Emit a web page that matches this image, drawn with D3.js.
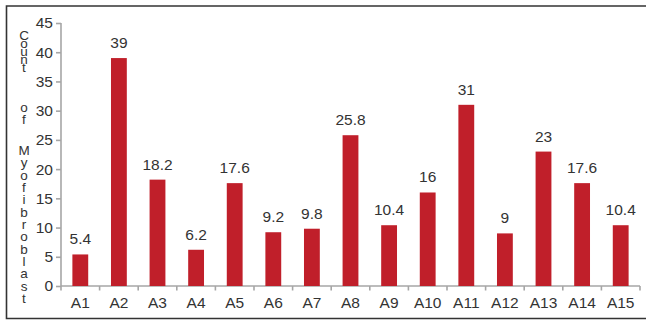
<!DOCTYPE html>
<html>
<head>
<meta charset="utf-8">
<script src="https://cdn.jsdelivr.net/npm/d3@7/dist/d3.min.js"></script>
<style>
  html, body { margin: 0; padding: 0; background: #fff; }
  svg { display: block; font-family: Arial, "Liberation Sans", sans-serif; }
</style>
</head>
<body>
<svg id="chart" width="646" height="320"></svg>
<script>
// Myofibroblast counts per sample
const categories = ["A1","A2","A3","A4","A5","A6","A7","A8","A9","A10","A11","A12","A13","A14","A15"];
const counts = [5.4, 39, 18.2, 6.2, 17.6, 9.2, 9.8, 25.8, 10.4, 16, 31, 9, 23, 17.6, 10.4];
const yTicks = [0, 5, 10, 15, 20, 25, 30, 35, 40, 45];
const yTitle = "Count of Myofibroblast";

const svg = d3.select("#chart");
const axisColor = "#a6a6a6";
const textColor = "#333";
const barColor = "#c01f2a";

// outer frame (open on the right)
svg.append("path")
  .attr("d", "M650,6 H6.5 V318.5 H650")
  .attr("fill", "none")
  .attr("stroke", "#333")
  .attr("stroke-width", 1.6);

const x = d3.scaleBand().domain(categories).range([61, 640]).paddingInner(0.59).paddingOuter(0.295);
const y = d3.scaleLinear().domain([0, 45]).range([286, 23]);

// y axis
const yAxis = svg.append("g")
  .attr("transform", "translate(61,0)")
  .call(d3.axisLeft(y).tickValues(yTicks).tickSize(5).tickPadding(3).tickFormat(d3.format("d")));
yAxis.select(".domain").attr("stroke", axisColor).attr("stroke-width", 1.6).attr("d", "M0,23V286");
yAxis.selectAll(".tick line").attr("stroke", axisColor).attr("stroke-width", 1.6);
yAxis.selectAll(".tick text").attr("fill", textColor).attr("font-size", 15.5).attr("font-family", "Arial, 'Liberation Sans', sans-serif");

// x axis with ticks on category boundaries
const xAxisG = svg.append("g").attr("transform", "translate(0,286)");
xAxisG.append("line").attr("x1", 61).attr("x2", 640).attr("stroke", axisColor).attr("stroke-width", 1.6);
const bounds = d3.range(categories.length + 1).map(i => 61 + i * x.step());
xAxisG.selectAll("line.tk").data(bounds).join("line")
  .attr("class", "tk")
  .attr("x1", d => d).attr("x2", d => d)
  .attr("y1", 0).attr("y2", 4.5)
  .attr("stroke", axisColor).attr("stroke-width", 1.6);
xAxisG.selectAll("text").data(categories).join("text")
  .attr("x", d => x(d) + x.bandwidth() / 2)
  .attr("y", 22)
  .attr("text-anchor", "middle")
  .attr("fill", textColor)
  .attr("font-size", 15.5)
  .text(d => d);

// bars
const data = categories.map((c, i) => ({ c, v: counts[i] }));
svg.append("g").selectAll("rect").data(data).join("rect")
  .attr("x", d => x(d.c))
  .attr("width", x.bandwidth())
  .attr("y", d => y(d.v))
  .attr("height", d => y(0) - y(d.v))
  .attr("fill", barColor);

// value labels
svg.append("g").selectAll("text").data(data).join("text")
  .attr("x", d => x(d.c) + x.bandwidth() / 2)
  .attr("y", d => y(d.v) - 10)
  .attr("text-anchor", "middle")
  .attr("fill", textColor)
  .attr("font-size", 15.5)
  .text(d => d.v);

// axis title: upright letters stacked top to bottom, one run per word
const titleWords = yTitle.split(" ");
const wordSlots = [{ top: 28, len: 47 }, { top: 100, len: 27 }, { top: 143, len: 163 }];
svg.append("g").selectAll("text")
  .data(titleWords.map((w, i) => ({ w, ...wordSlots[i] })))
  .join("text")
  .attr("x", 24)
  .attr("y", d => d.top)
  .attr("writing-mode", "vertical-rl")
  .style("text-orientation", "upright")
  .attr("textLength", d => d.len)
  .attr("lengthAdjust", "spacing")
  .attr("fill", textColor)
  .attr("font-size", 13.5)
  .text(d => d.w);
</script>
</body>
</html>
